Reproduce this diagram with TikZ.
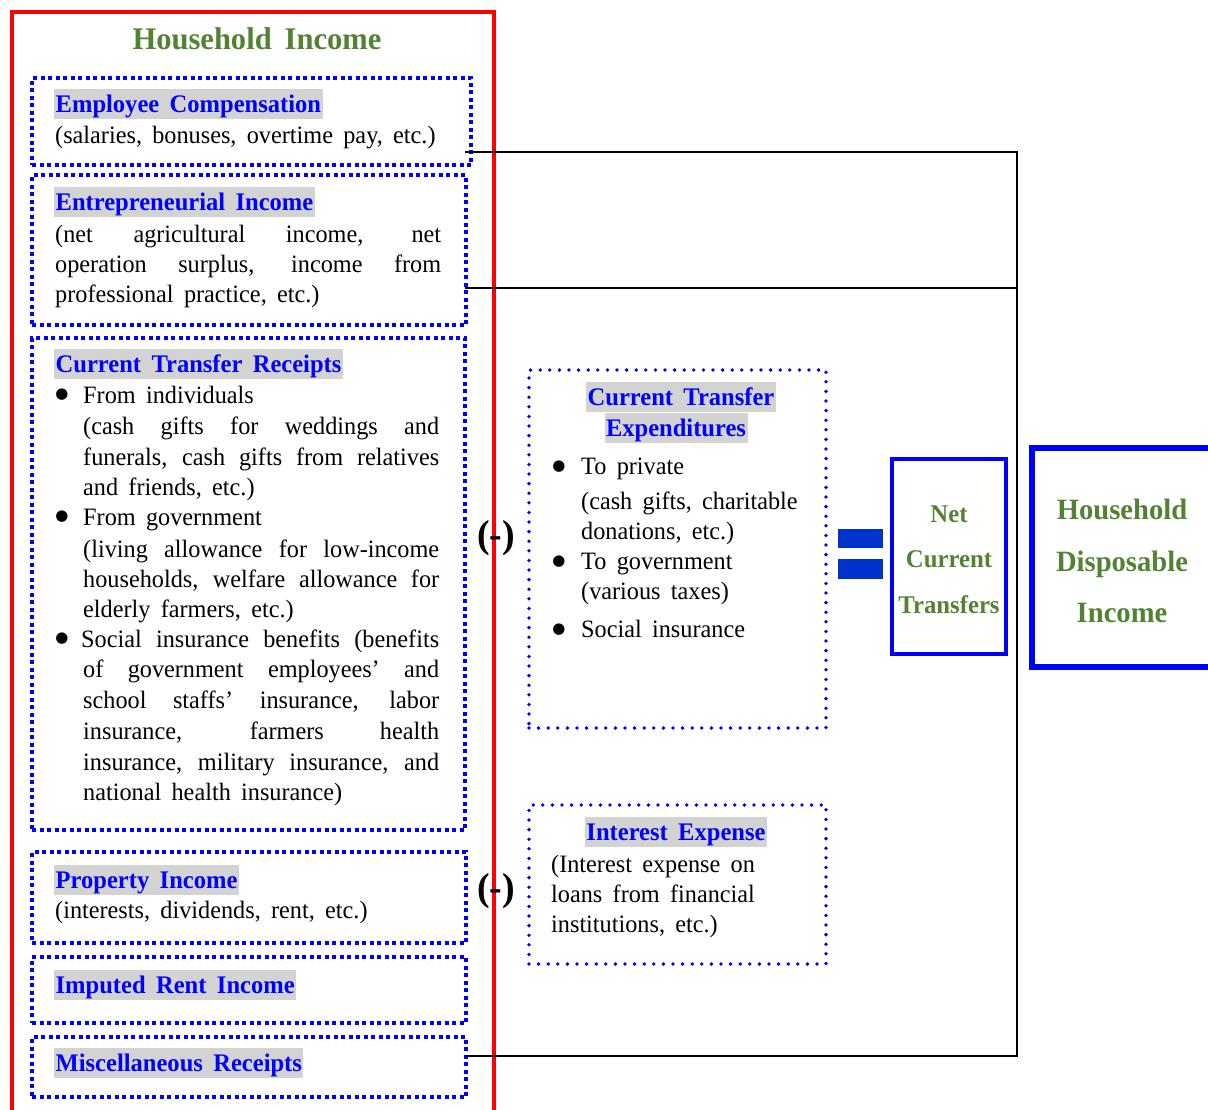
\documentclass[tikz,border=0pt]{standalone}
\usepackage{fontspec}
\setmainfont{Liberation Serif}[FakeStretch=0.97, WordSpace=1.7]
\newfontfamily\bulf{DejaVu Sans}
\definecolor{hgreen}{RGB}{84,130,53}
\definecolor{hlgray}{RGB}{211,211,211}
\definecolor{eqblue}{RGB}{0,51,204}
\newcommand\bodyf{\fontsize{25}{30}\selectfont}
\newcommand\hdf{\fontsize{25.3}{30}\selectfont\bfseries}
\newcommand\hd[1]{{\setlength{\fboxsep}{0pt}\colorbox{hlgray}{\rule[-6.5pt]{0pt}{30pt}\hspace{1.5pt}\hdf\color{blue}#1\hspace{1.5pt}}}}
\newcommand\jl[2]{\makebox[#1][s]{#2}}
\tikzset{
  leftbox/.style={draw=blue, line width=3.5pt, dash pattern=on 4pt off 3.5pt, inner sep=0pt},
  midbox/.style={draw=blue, line width=3.8pt, line cap=round, dash pattern=on 0pt off 9.6pt, inner sep=0pt},
  txt/.style={inner sep=0pt, anchor=base west, font=\bodyf},
  ctxt/.style={inner sep=0pt, anchor=base, font=\bodyf},
  bul/.style={inner sep=0pt, anchor=center, font=\bulf\fontsize{15}{15}\selectfont},
  grn/.style={inner sep=0pt, anchor=base, text=hgreen, font=\fontsize{25.5}{30}\selectfont\bfseries},
  grnbig/.style={inner sep=0pt, anchor=base, text=hgreen, font=\fontsize{29.5}{32}\selectfont\bfseries},
  minus/.style={inner sep=0pt, anchor=base, font=\fontsize{39}{40}\selectfont\bfseries},
  conn/.style={line width=2.7pt, black},
}
\begin{document}
\begin{tikzpicture}[x=1pt,y=-1pt]
\useasboundingbox (0,0) rectangle (1208,1109);
\clip (0,0) rectangle (1208,1109);
% outer red box
\node[draw=red, line width=4pt, minimum width=482.5pt, minimum height=1113pt, inner sep=0pt] (hh) at (252.75,568.5) {};
\node[inner sep=0pt, anchor=base, text=hgreen, font=\fontsize{31.5}{36}\selectfont\bfseries] (title) at (257,49) {Household Income};
% left boxes
\node[leftbox, minimum width=439pt, minimum height=87pt] (emp) at (251.5,121.5) {};
\node[leftbox, minimum width=434pt, minimum height=150pt] (ent) at (249,250) {};
\node[leftbox, minimum width=433pt, minimum height=492pt] (ctr) at (248.5,584) {};
\node[leftbox, minimum width=434pt, minimum height=91pt] (prop) at (249,897.5) {};
\node[leftbox, minimum width=434pt, minimum height=66pt] (imp) at (249,990) {};
\node[leftbox, minimum width=434pt, minimum height=60pt] (misc) at (249,1067) {};
% middle boxes
\node[midbox, minimum width=297pt, minimum height=358pt] (cte) at (677.5,549) {};
\node[midbox, minimum width=297pt, minimum height=159pt] (intr) at (677.5,884.5) {};
% right boxes
\node[draw=blue, line width=4.5pt, minimum width=114pt, minimum height=195pt, inner sep=0pt] (net) at (949,556.5) {};
\node[draw=blue, line width=6pt, minimum width=203pt, minimum height=219pt, inner sep=0pt] (hdi) at (1133.5,557.5) {};
% equals sign
\fill[eqblue] (837.5,529) rectangle (882.5,548);
\fill[eqblue] (837.5,559) rectangle (882.5,579);
% connectors
\coordinate (j1) at (1017,152);
\coordinate (j2) at (1017,288);
\coordinate (j3) at (1017,1056);
\path (emp.east) ++(-8pt,0) coordinate (e1);
\path (ent.east) ++(-3pt,0) coordinate (e2);
\path (misc.east) ++(-2pt,0) coordinate (e3);
\draw[conn] (e1 |- j1) -- (j1) -- (j3) -- (e3 |- j3);
\draw[conn] (e2 |- j2) -- (j2);
% minus signs
\node[minus] (m1) at (496,547) {(-)};
\node[minus] (m2) at (496,900) {(-)};
% box 1
\node[txt] (h1) at (54,112) {\hd{Employee Compensation}};
\node[txt] (b1) at (55,143) {(salaries, bonuses, overtime pay, etc.)};
% box 2
\node[txt] (h2) at (54,210) {\hd{Entrepreneurial Income}};
\node[txt] (b2a) at (55,242) {\jl{386pt}{(net agricultural income, net}};
\node[txt] (b2b) at (55,272) {\jl{386pt}{operation surplus, income from}};
\node[txt] (b2c) at (55,302) {professional practice, etc.)};
% box 3
\node[txt] (h3) at (54,372) {\hd{Current Transfer Receipts}};
\node[bul] (u1) at (62,395) {●};
\node[txt] (c1) at (83,403) {From individuals};
\node[txt] (c2) at (83,434) {\jl{356pt}{(cash gifts for weddings and}};
\node[txt] (c3) at (83,465) {\jl{356pt}{funerals, cash gifts from relatives}};
\node[txt] (c4) at (83,495) {and friends, etc.)};
\node[bul] (u2) at (62,517) {●};
\node[txt] (c5) at (83,525) {From government};
\node[txt] (c6) at (83,557) {\jl{356pt}{(living allowance for low-income}};
\node[txt] (c7) at (83,587) {\jl{356pt}{households, welfare allowance for}};
\node[txt] (c8) at (83,617) {elderly farmers, etc.)};
\node[bul] (u3) at (62,639) {●};
\node[txt] (c9) at (81,647) {\jl{358pt}{Social insurance benefits (benefits}};
\node[txt] (c10) at (83,677) {\jl{356pt}{of government employees’ and}};
\node[txt] (c11) at (83,708) {\jl{356pt}{school staffs’ insurance, labor}};
\node[txt] (c12) at (83,739) {\jl{356pt}{insurance, farmers health}};
\node[txt] (c13) at (83,770) {\jl{356pt}{insurance, military insurance, and}};
\node[txt] (c14) at (83,800) {national health insurance)};
% box 4-6
\node[txt] (h4) at (54,888) {\hd{Property Income}};
\node[txt] (b4) at (55,918) {(interests, dividends, rent, etc.)};
\node[txt] (h5) at (54,993) {\hd{Imputed Rent Income}};
\node[txt] (h6) at (54,1071) {\hd{Miscellaneous Receipts}};
% current transfer expenditures
\node[ctxt] (ch1) at (681,405) {\hd{Current Transfer}};
\node[ctxt] (ch2) at (676,436) {\hd{Expenditures}};
\node[bul] (u4) at (559,467) {●};
\node[txt] (d1) at (581,474) {To private};
\node[txt] (d2) at (581,509) {(cash gifts, charitable};
\node[txt] (d3) at (581,539) {donations, etc.)};
\node[bul] (u5) at (559,562) {●};
\node[txt] (d4) at (581,569) {To government};
\node[txt] (d5) at (581,599) {(various taxes)};
\node[bul] (u6) at (559,630) {●};
\node[txt] (d6) at (581,637) {Social insurance};
% interest expense
\node[ctxt] (ih) at (676,840) {\hd{Interest Expense}};
\node[txt] (i1) at (551,872) {(Interest expense on};
\node[txt] (i2) at (551,902) {loans from financial};
\node[txt] (i3) at (551,932) {institutions, etc.)};
% net current transfers
\node[grn] (n1) at (949,522) {Net};
\node[grn] (n2) at (949,567) {Current};
\node[grn] (n3) at (949,613) {Transfers};
% household disposable income
\node[grnbig] (k1) at (1122,519) {Household};
\node[grnbig] (k2) at (1122,571) {Disposable};
\node[grnbig] (k3) at (1122,622) {Income};
\end{tikzpicture}
\end{document}
